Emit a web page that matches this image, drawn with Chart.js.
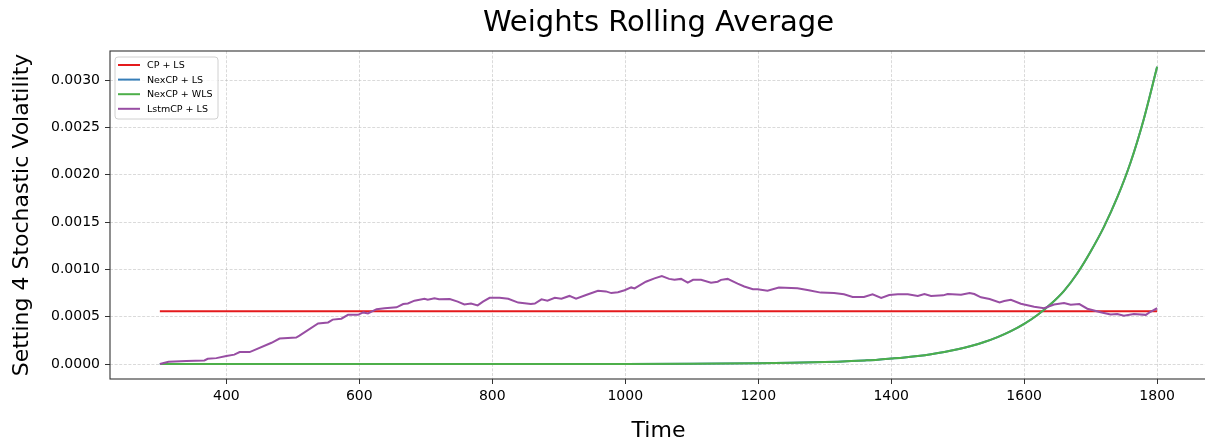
<!DOCTYPE html>
<html>
<head>
<meta charset="utf-8">
<title>Weights Rolling Average</title>
<script src="https://cdn.jsdelivr.net/npm/chart.js@4.4.1/dist/chart.umd.min.js"></script>
<style>
  html, body { margin: 0; padding: 0; background: #ffffff; overflow: hidden; }
  #wrap { position: absolute; left: 0; top: 0; width: 1212px; height: 441px; }
</style>
</head>
<body>
<div id="wrap"><canvas id="chart" width="1212" height="441"></canvas></div>
<script>
// ---- series data ----
const seriesLabels = ['CP + LS', 'NexCP + LS', 'NexCP + WLS', 'LstmCP + LS'];
const seriesColors = ['#e41a1c', '#377eb8', '#4daf4a', '#984ea3'];

// CP + LS: constant weight
const cpTime = [300, 1800];
const cpWeights = [0.000557, 0.000557];

// NexCP weights (LS and WLS share the same weights)
const nexTime = [300, 900, 1000, 1100, 1150, 1200, 1250, 1300, 1320, 1340, 1360, 1380,
  1400, 1420, 1440, 1460, 1480, 1500, 1520, 1540, 1560, 1580, 1600, 1620, 1640,
  1660, 1680, 1700, 1720, 1740, 1760, 1780, 1800];
const nexWeights = [0, 0, 0.000001, 0.000003, 0.000005, 0.000008, 0.000013, 0.000021,
  0.000026, 0.000032, 0.000039, 0.000047, 0.000058, 0.000070, 0.000086, 0.000105,
  0.000128, 0.000156, 0.000191, 0.000233, 0.000285, 0.000348, 0.000425, 0.000519,
  0.000634, 0.000774, 0.000960, 0.001190, 0.001450, 0.001760, 0.002130, 0.002590, 0.00314];

// LstmCP + LS rolling average
const lstmTime = [300, 313, 340, 367, 372, 385, 400, 412, 420, 435, 442, 468, 480, 505, 510,
  538, 553, 560, 573, 583, 598, 606, 613, 626, 638, 656, 666, 673, 683, 698, 703, 713, 720,
  736, 748, 758, 768, 778, 786, 796, 811, 824, 839, 858, 864, 874, 883, 894, 904, 916, 926,
  941, 959, 971, 979, 989, 999, 1009, 1014, 1031, 1044, 1055, 1066, 1074, 1084, 1094, 1102,
  1114, 1129, 1139, 1144, 1154, 1169, 1179, 1192, 1199, 1214, 1231, 1259, 1276, 1294, 1314,
  1329, 1342, 1359, 1372, 1385, 1397, 1410, 1425, 1440, 1450, 1460, 1478, 1485, 1505, 1518,
  1525, 1535, 1548, 1563, 1570, 1580, 1595, 1615, 1630, 1645, 1660, 1670, 1683, 1695, 1715,
  1730, 1740, 1750, 1765, 1783, 1790, 1800];
const lstmWeights = [0, 0.000024, 0.000032, 0.000039, 0.000056, 0.000063, 0.000085, 0.000100,
  0.000127, 0.000127, 0.000148, 0.000225, 0.000270, 0.000280, 0.000300, 0.000430, 0.000440,
  0.000470, 0.000480, 0.000520, 0.000520, 0.000546, 0.000535, 0.000580, 0.000590, 0.000600,
  0.000634, 0.000640, 0.000670, 0.000690, 0.000680, 0.000695, 0.000685, 0.000687, 0.000660,
  0.000630, 0.000640, 0.000620, 0.000660, 0.000700, 0.000700, 0.000690, 0.000650, 0.000634,
  0.000640, 0.000684, 0.000670, 0.000700, 0.000690, 0.000720, 0.000690, 0.000730, 0.000775,
  0.000768, 0.000750, 0.000760, 0.000780, 0.000810, 0.000800, 0.000870, 0.000905, 0.000930,
  0.000900, 0.000890, 0.000900, 0.000860, 0.000890, 0.000890, 0.000860, 0.000870, 0.000890,
  0.000900, 0.000850, 0.000820, 0.000790, 0.000790, 0.000775, 0.000810, 0.000800, 0.000780,
  0.000755, 0.000750, 0.000737, 0.000710, 0.000710, 0.000737, 0.000700, 0.000730, 0.000737,
  0.000737, 0.000720, 0.000740, 0.000720, 0.000726, 0.000740, 0.000733, 0.000750, 0.000740,
  0.000705, 0.000687, 0.000652, 0.000666, 0.000680, 0.000637, 0.000606, 0.000590, 0.000630,
  0.000645, 0.000627, 0.000634, 0.000585, 0.000547, 0.000525, 0.000530, 0.000510, 0.000530,
  0.000520, 0.000553, 0.000590];

// ---- axis ticks ----
const xTicks = [400, 600, 800, 1000, 1200, 1400, 1600, 1800];
const yTicks = [0, 0.0005, 0.001, 0.0015, 0.002, 0.0025, 0.003];

const FONT = "'DejaVu Sans', 'Liberation Sans', sans-serif";
const toPoints = (xs, ys) => xs.map((x, i) => ({ x: x, y: ys[i] }));

function lineDataset(idx, xs, ys, order) {
  return {
    label: seriesLabels[idx],
    data: toPoints(xs, ys),
    borderColor: seriesColors[idx],
    backgroundColor: seriesColors[idx],
    borderWidth: 2,
    pointRadius: 0,
    tension: idx === 3 ? 0 : 0.2,
    cubicInterpolationMode: idx === 3 ? 'default' : 'monotone',
    fill: false,
    order: order
  };
}

// frame, title, axis titles and legend
const decorations = {
  id: 'decorations',
  afterDraw(chart) {
    const ctx = chart.ctx;
    const a = chart.chartArea;
    ctx.save();
    // axes frame
    ctx.strokeStyle = '#333333';
    ctx.lineWidth = 1.1;
    ctx.strokeRect(a.left, a.top, a.right - a.left, a.bottom - a.top);

    ctx.fillStyle = '#000000';
    // title
    ctx.font = '29px ' + FONT;
    ctx.textAlign = 'center';
    ctx.textBaseline = 'alphabetic';
    ctx.fillText('Weights Rolling Average', (a.left + a.right) / 2, 31);
    // x axis title
    ctx.font = '22px ' + FONT;
    ctx.fillText('Time', (a.left + a.right) / 2, 437);
    // y axis title
    ctx.save();
    ctx.translate(28, (a.top + a.bottom) / 2);
    ctx.rotate(-Math.PI / 2);
    ctx.fillText('Setting 4 Stochastic Volatility', 0, 0);
    ctx.restore();

    // legend
    const bx = 115, by = 57, bw = 103, bh = 62, r = 3;
    ctx.beginPath();
    ctx.moveTo(bx + r, by);
    ctx.lineTo(bx + bw - r, by);
    ctx.arcTo(bx + bw, by, bx + bw, by + r, r);
    ctx.lineTo(bx + bw, by + bh - r);
    ctx.arcTo(bx + bw, by + bh, bx + bw - r, by + bh, r);
    ctx.lineTo(bx + r, by + bh);
    ctx.arcTo(bx, by + bh, bx, by + bh - r, r);
    ctx.lineTo(bx, by + r);
    ctx.arcTo(bx, by, bx + r, by, r);
    ctx.closePath();
    ctx.fillStyle = 'rgba(255,255,255,0.8)';
    ctx.fill();
    ctx.strokeStyle = '#d0d0d0';
    ctx.lineWidth = 1;
    ctx.stroke();

    ctx.font = '9.5px ' + FONT;
    ctx.textAlign = 'left';
    ctx.textBaseline = 'middle';
    chart.data.datasets.forEach((ds, i) => {
      const y = 65 + i * 14.6;
      ctx.strokeStyle = ds.borderColor;
      ctx.lineWidth = 2;
      ctx.beginPath();
      ctx.moveTo(118, y);
      ctx.lineTo(140, y);
      ctx.stroke();
      ctx.fillStyle = '#000000';
      ctx.fillText(ds.label, 147, y + 0.5);
    });
    ctx.restore();
  }
};

const gridStyle = {
  color: 'rgba(176,176,176,0.6)',
  lineWidth: 0.8,
  drawTicks: true,
  tickLength: 5,
  tickColor: '#333333',
  tickWidth: 1,
  tickBorderDash: []
};
// axis line hidden (frame is drawn separately); dash pattern applies to grid lines
const borderStyle = { display: false, dash: [3, 1.6] };

new Chart(document.getElementById('chart'), {
  type: 'line',
  data: {
    datasets: [
      lineDataset(0, cpTime, cpWeights, 4),
      lineDataset(1, nexTime, nexWeights, 3),
      lineDataset(2, nexTime, nexWeights, 2),
      lineDataset(3, lstmTime, lstmWeights, 1)
    ]
  },
  options: {
    responsive: false,
    devicePixelRatio: 1,
    animation: false,
    layout: { padding: { left: 0, top: 51, right: 5, bottom: 0 } },
    plugins: {
      legend: { display: false },
      title: { display: false },
      tooltip: { enabled: false }
    },
    scales: {
      x: {
        type: 'linear',
        min: 225,
        max: 1875,
        afterFit(scale) { scale.height = 62; },
        afterBuildTicks(scale) { scale.ticks = xTicks.map(v => ({ value: v })); },
        grid: gridStyle,
        border: borderStyle,
        ticks: {
          color: '#000000',
          padding: 4,
          maxRotation: 0,
          font: { family: FONT, size: 14 },
          callback: v => String(v)
        }
      },
      y: {
        type: 'linear',
        min: -0.0001575,
        max: 0.0033075,
        afterFit(scale) { scale.width = 110; },
        afterBuildTicks(scale) { scale.ticks = yTicks.map(v => ({ value: v })); },
        grid: gridStyle,
        border: borderStyle,
        ticks: {
          color: '#000000',
          padding: 5,
          font: { family: FONT, size: 14 },
          callback: v => Number(v).toFixed(4)
        }
      }
    }
  },
  plugins: [decorations]
});
</script>
</body>
</html>
